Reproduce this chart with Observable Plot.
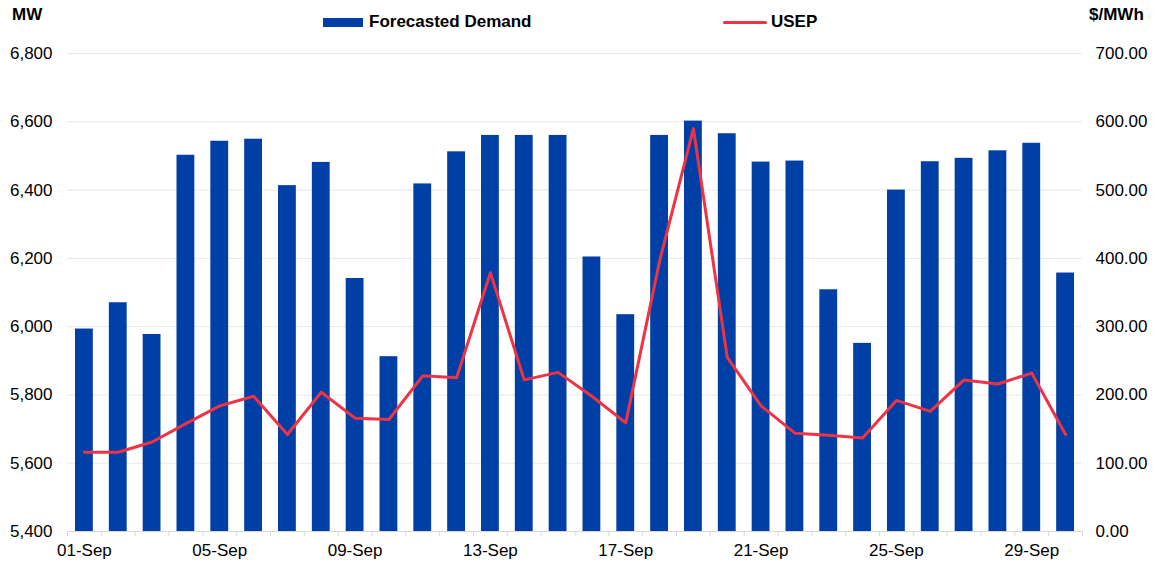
<!DOCTYPE html>
<html>
<head>
<meta charset="utf-8">
<script src="https://cdn.jsdelivr.net/npm/d3@7"></script>
<script src="https://cdn.jsdelivr.net/npm/@observablehq/plot@0.6"></script>
<style>
  html, body { margin: 0; padding: 0; background: #fff; }
  #wrap { position: relative; width: 1156px; height: 564px; font-family: "Liberation Sans", Arial, sans-serif; }
  .lbl { position: absolute; font-weight: bold; font-size: 17px; line-height: 19px; color: #000; white-space: nowrap; }
  .sw { position: absolute; }
</style>
</head>
<body>
<div id="wrap"></div>
<script>
const days = d3.range(1, 31);
const dayLabels = days.map(d => String(d).padStart(2, "0") + "-Sep");
const demand = [5993, 6070, 5977, 6502, 6543, 6549, 6413, 6481, 6141, 5912,
                6418, 6512, 6560, 6560, 6560, 6204, 6035, 6560, 6602, 6565,
                6482, 6485, 6108, 5951, 6400, 6483, 6493, 6515, 6537, 6157];
const usep = [116, 116, 131, 158, 184, 198, 142, 204, 166, 164,
              228, 225, 379, 222, 233, 198, 159, 396, 590, 255,
              184, 144, 141, 137, 192, 176, 222, 216, 232, 142];
const mwTicks = [5400, 5600, 5800, 6000, 6200, 6400, 6600, 6800];
const labelDays = [1, 5, 9, 13, 17, 21, 25, 29];

const MW0 = 5400, RATIO = 2; // 1400 MW span <-> 700 $/MWh span
const rows = days.map((d, i) => ({day: d, label: dayLabels[i], mw: demand[i], usep: usep[i], price: MW0 + usep[i] * RATIO}));
const bounds = d3.range(0.5, 31, 1);

const plot = Plot.plot({
  width: 1156,
  height: 564,
  marginLeft: 67,
  marginRight: 74,
  marginTop: 53,
  marginBottom: 33,
  style: {fontFamily: "Liberation Sans, Arial, sans-serif", fontSize: "17px", color: "#000", background: "#fff"},
  x: {type: "linear", domain: [0.5, 30.5]},
  y: {domain: [5400, 6800]},
  marks: [
    Plot.gridY(mwTicks, {stroke: "#e8e8e8", strokeOpacity: 1, strokeWidth: 1}),
    Plot.rectY(rows, {x1: d => d.day - 0.5, x2: d => d.day + 0.5, y1: MW0, y2: "mw", fill: "#0040a6", insetLeft: 8, insetRight: 8}),
    Plot.line(rows, {x: "day", y: "price", stroke: "#ee3344", strokeWidth: 3, strokeLinejoin: "round"}),
    Plot.ruleY([MW0], {stroke: "#d9d9d9", strokeWidth: 1}),
    Plot.axisY(mwTicks, {anchor: "left", tickSize: 0, tickPadding: 15, tickFormat: d3.format(","), label: null}),
    Plot.axisY(mwTicks, {anchor: "right", tickSize: 0, tickPadding: 13, tickFormat: d => ((d - MW0) / RATIO).toFixed(2), textAnchor: "start", label: null}),
    Plot.axisX(bounds, {anchor: "bottom", tickSize: 5, stroke: "#d9d9d9", tickFormat: () => "", label: null}),
    Plot.axisX(labelDays, {anchor: "bottom", tickSize: 0, tickPadding: 12, tickFormat: d => dayLabels[d - 1], label: null})
  ]
});
const wrap = document.getElementById("wrap");
wrap.appendChild(plot);

function add(html, cls, style) {
  const el = document.createElement("div");
  el.className = cls;
  el.innerHTML = html;
  Object.assign(el.style, style);
  wrap.appendChild(el);
}
add("MW", "lbl", {left: "12px", top: "5px"});
add("$/MWh", "lbl", {left: "1089px", top: "5px"});
add("", "sw", {left: "323px", top: "18px", width: "40px", height: "8.5px", background: "#0040a6"});
add("Forecasted Demand", "lbl", {left: "369px", top: "12px"});
add("", "sw", {left: "723px", top: "20.5px", width: "44px", height: "3px", background: "#ee3344", borderRadius: "2px"});
add("USEP", "lbl", {left: "771px", top: "12px"});
</script>
</body>
</html>
